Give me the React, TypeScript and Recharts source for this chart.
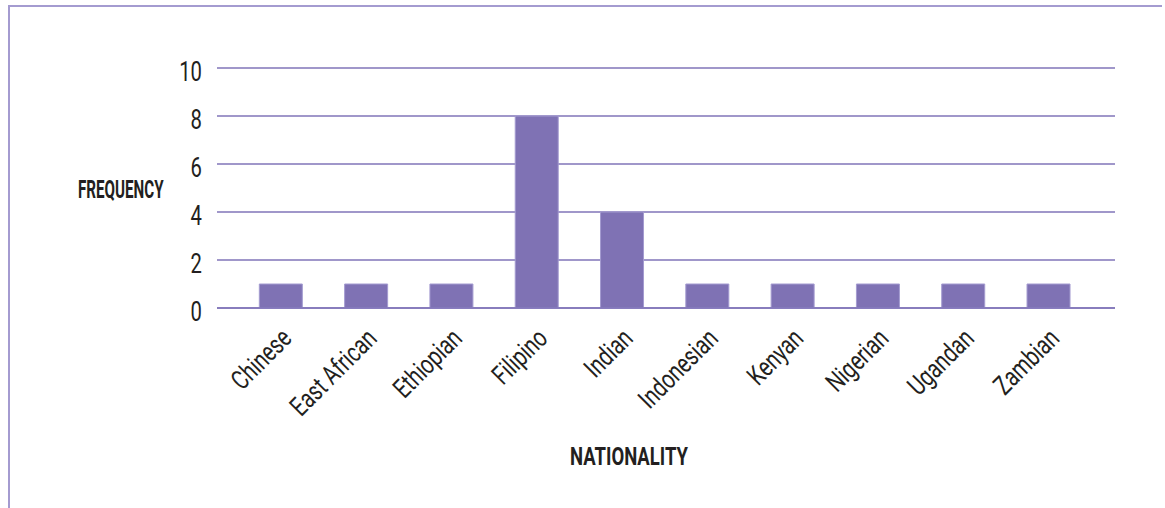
import React from 'react';
import { BarChart, Bar, XAxis, YAxis, CartesianGrid } from 'recharts';

const categories = ['Chinese', 'East African', 'Ethiopian', 'Filipino', 'Indian', 'Indonesian', 'Kenyan', 'Nigerian', 'Ugandan', 'Zambian'];
const frequency = [1, 1, 1, 8, 4, 1, 1, 1, 1, 1];
const yTicks = [0, 2, 4, 6, 8, 10];

const data = categories.map((c, i) => ({ name: c, value: frequency[i] }));

const FONT = 'Roboto, "Noto Sans", sans-serif';
const PURPLE = '#7f72b4';
const GRID = '#8175b9';
const TEXT = '#231f20';

const XTick = (props: any) => {
  const { x, y, payload } = props;
  return (
    <g transform={`translate(${x + 12.5},${y + 32}) rotate(-45) scale(0.75,1)`}>
      <text x={0} y={0} textAnchor="end" fill={TEXT} fontSize={27} fontFamily={FONT}>
        {payload.value}
      </text>
    </g>
  );
};

const YTick = (props: any) => {
  const { x, y, payload } = props;
  return (
    <g transform={`translate(${x - 15},${y + 12.8}) scale(0.75,1)`}>
      <text x={0} y={0} textAnchor="end" fill={TEXT} fontSize={27} fontFamily={FONT}>
        {payload.value}
      </text>
    </g>
  );
};

const titleStyle: React.CSSProperties = {
  position: 'absolute',
  fontFamily: FONT,
  fontWeight: 'bold',
  color: TEXT,
  fontSize: 25.7,
  lineHeight: '25.7px',
  transformOrigin: '0 0',
  whiteSpace: 'nowrap',
};

export default function App() {
  return (
    <div style={{ position: 'absolute', left: 0, top: 0, width: 1165, height: 508, background: '#fff', overflow: 'hidden' }}>
      <div style={{ position: 'absolute', left: 8, top: 5, width: 1152, height: 510, borderTop: '2px solid #a49bd0', borderLeft: '2px solid #a49bd0' }} />
      <BarChart width={1165} height={508} data={data} margin={{ top: 68, right: 50, bottom: 0, left: 0 }} barCategoryGap="25%">
        <CartesianGrid vertical={false} stroke={GRID} strokeWidth={1.5} />
        <XAxis
          dataKey="name"
          interval={0}
          height={200}
          tickLine={false}
          tickSize={0}
          tickMargin={0}
          axisLine={{ stroke: GRID, strokeWidth: 1.5 }}
          padding={{ left: 21, right: 24 }}
          tick={<XTick />}
        />
        <YAxis
          width={217}
          domain={[0, 10]}
          ticks={yTicks}
          tickLine={false}
          tickSize={0}
          tickMargin={0}
          axisLine={false}
          tick={<YTick />}
        />
        <Bar dataKey="value" fill={PURPLE} stroke="#a49bd0" strokeWidth={1} isAnimationActive={false} />
      </BarChart>
      <div style={{ ...titleStyle, left: 78, top: 176.6, transform: 'scaleX(0.59)' }}>FREQUENCY</div>
      <div style={{ ...titleStyle, left: 570, top: 443.6, transform: 'scaleX(0.72)' }}>NATIONALITY</div>
    </div>
  );
}
